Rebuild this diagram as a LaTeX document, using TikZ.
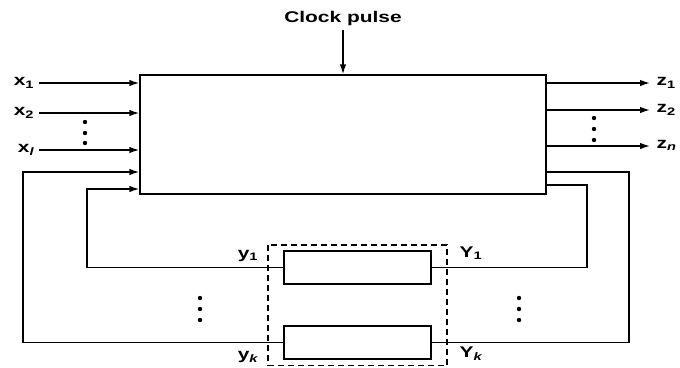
\documentclass[tikz,border=0pt]{standalone}
\usepackage{fontspec}
\setmainfont{Liberation Sans}
\usetikzlibrary{arrows.meta}
\newcommand{\wide}[1]{\scalebox{1.35}[1]{#1}}
\begin{document}
\begin{tikzpicture}[x=1pt,y=-1pt, line width=1.4pt,
  lbl/.style={font=\fontsize{15.5}{17}\selectfont\bfseries, inner sep=0pt},
  arr/.style={-{Latex[length=10pt,width=6.5pt]}},
  blk/.style={draw, minimum width=147pt, minimum height=33pt, inner sep=0pt},
  dot/.style={circle, fill, inner sep=0pt, minimum size=4.4pt}]
\useasboundingbox (0,0) rectangle (680,367);
% main box
\node[draw, minimum width=406pt, minimum height=119pt, inner sep=0pt] (box) at (343,134.5) {};
% clock
\node[lbl] (clk) at (343,18) {\wide{Clock pulse}};
\draw[arr] ([yshift=-4pt]clk.south) -- (clk.south |- box.north);
% inputs
\node[lbl, anchor=mid east] (x1) at (35,83) {\wide{x\textsubscript{1}}};
\node[lbl, anchor=mid east] (x2) at (35,113) {\wide{x\textsubscript{2}}};
\node[lbl, anchor=mid east] (xl) at (35,150) {\wide{x\textsubscript{\itshape l}}};
\foreach \n in {x1,x2,xl}
  \draw[arr] ([xshift=4pt]\n.mid east) -- (\n.mid east -| box.west);
% outputs
\node[lbl, anchor=mid west] (z1) at (656,83) {\wide{z\textsubscript{1}}};
\node[lbl, anchor=mid west] (z2) at (656,110) {\wide{z\textsubscript{2}}};
\node[lbl, anchor=mid west] (zn) at (656,146) {\wide{z\textsubscript{\itshape n}}};
\foreach \n in {z1,z2,zn}
  \draw[arr] (\n.mid west -| box.east) -- ([xshift=-6pt]\n.mid west);
% dots
\foreach \y in {122,133,143} \node[dot] at (85,\y) {};
\foreach \y in {118,129,140} \node[dot] at (594,\y) {};
\foreach \y in {298,309,320} \node[dot] at (200,\y) {};
\foreach \y in {298,309,320} \node[dot] at (519,\y) {};
% memory blocks
\node[blk] (r1) at (357.5,267.5) {};
\node[blk] (rk) at (357.5,342.5) {};
\draw[dash pattern=on 6pt off 4pt, line width=1.7pt] (268,245) rectangle (447,365.5);
% feedback paths
\coordinate (riA) at (587,185);
\coordinate (roA) at (629,172);
\coordinate (liA) at (87,189);
\coordinate (loA) at (23,172);
\draw (riA -| box.east) -- (riA) |- (r1.east);
\draw (roA -| box.east) -- (roA) |- (rk.east);
\draw[arr] (r1.west) -| (liA) -- (liA -| box.west);
\draw[arr] (rk.west) -| (loA) -- (loA -| box.west);
% labels
\node[lbl] (y1) at (248,256) {\wide{y\textsubscript{1}}};
\node[lbl] (yk) at (248,357) {\wide{y\textsubscript{\itshape k}}};
\node[lbl] (Y1) at (471,253) {\wide{Y\textsubscript{1}}};
\node[lbl] (Yk) at (471,354) {\wide{Y\textsubscript{\itshape k}}};
\end{tikzpicture}
\end{document}
